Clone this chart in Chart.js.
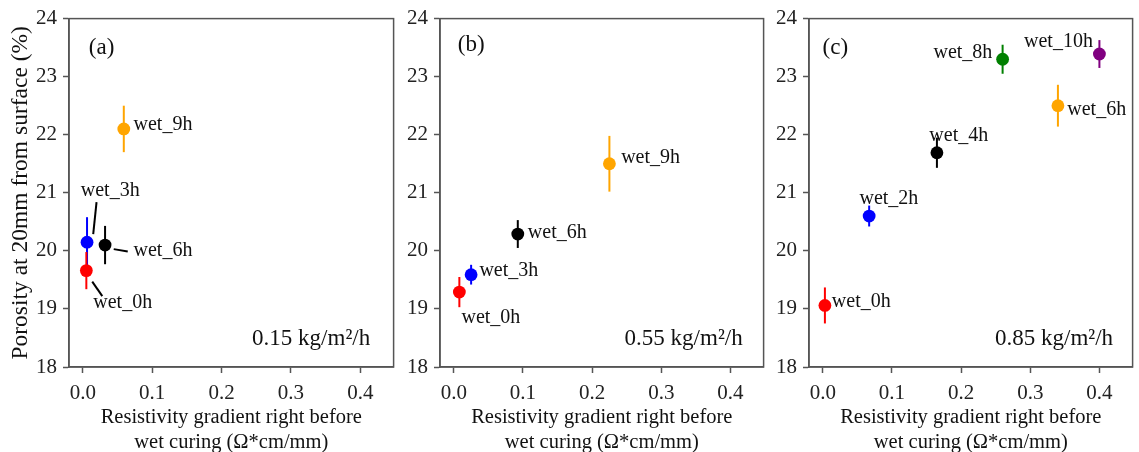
<!DOCTYPE html>
<html>
<head>
<meta charset="utf-8">
<script src="https://cdn.jsdelivr.net/npm/chart.js@4.4.0/dist/chart.umd.min.js"></script>
<style>
  body { margin: 0; background: #fff; width: 1139px; height: 452px; overflow: hidden; position: relative; }
  canvas { position: absolute; top: 0; }
</style>
</head>
<body>
<canvas id="ca" width="400" height="452" style="left:0"></canvas>
<canvas id="cb" width="370" height="452" style="left:400px"></canvas>
<canvas id="cc" width="369" height="452" style="left:770px"></canvas>
<script>
// shared axes
const xTicks = [0, 0.1, 0.2, 0.3, 0.4];
const yTicks = [18, 19, 20, 21, 22, 23, 24];
const xTitle = ['Resistivity gradient right before', 'wet curing (\u03A9*cm/mm)'];
const yTitle = 'Porosity at 20mm from surface (%)';

// (a) 0.15 kg/m2/h
const namesA = ['wet_0h', 'wet_3h', 'wet_6h', 'wet_9h'];
const gradA = [0.005, 0.006, 0.032, 0.059];
const poroA = [19.66, 20.15, 20.10, 22.10];
const errA = [0.32, 0.43, 0.33, 0.40];
const colorsA = ['red', 'blue', 'black', 'orange'];

// (b) 0.55 kg/m2/h
const namesB = ['wet_0h', 'wet_3h', 'wet_6h', 'wet_9h'];
const gradB = [0.008, 0.025, 0.0925, 0.225];
const poroB = [19.29, 19.59, 20.29, 21.50];
const errB = [0.26, 0.17, 0.24, 0.48];
const colorsB = ['red', 'blue', 'black', 'orange'];

// (c) 0.85 kg/m2/h
const namesC = ['wet_0h', 'wet_2h', 'wet_4h', 'wet_6h', 'wet_8h', 'wet_10h'];
const gradC = [0.003, 0.067, 0.165, 0.34, 0.26, 0.40];
const poroC = [19.06, 20.60, 21.69, 22.50, 23.30, 23.39];
const errC = [0.31, 0.18, 0.26, 0.36, 0.25, 0.24];
const colorsC = ['red', 'blue', 'black', 'orange', 'green', 'purple'];

// where the labels sit (data coords, left/middle anchored)
const textPosA = [[0.015, 19.10], [-0.003, 21.03], [0.073, 20.01], [0.073, 22.17]];
const textPosB = [[0.011, 18.84], [0.037, 19.65], [0.107, 20.32], [0.242, 21.61]];
const textPosC = [[0.013, 19.13], [0.053, 20.90], [0.154, 21.98], [0.3535, 22.43], [0.160, 23.42], [0.291, 23.60]];
// leader lines of panel (a): [x1, y1, x2, y2]
const leadersA = [[0.028, 19.22, 0.0135, 19.47], [0.0197, 20.84, 0.0149, 20.29], [0.0647, 19.99, 0.0445, 20.03]];

const SERIF = '"Liberation Serif", "Times New Roman", serif';
const INK = '#111';
const AXIS = '#555';

function marksPlugin(p) {
  return {
    id: 'marks',
    beforeDatasetsDraw(chart) {
      const { ctx, scales: { x, y } } = chart;
      ctx.save();
      ctx.lineWidth = 2;
      // last first, so the lower series' bar ends up on top (as in the figure)
      for (let i = p.x.length - 1; i >= 0; i--) {
        const px = x.getPixelForValue(p.x[i]);
        ctx.strokeStyle = p.colors[i];
        ctx.beginPath();
        ctx.moveTo(px, y.getPixelForValue(p.y[i] - p.err[i]));
        ctx.lineTo(px, y.getPixelForValue(p.y[i] + p.err[i]));
        ctx.stroke();
      }
      ctx.restore();
    },
    afterDraw(chart) {
      const { ctx, chartArea: a, scales: { x, y } } = chart;
      ctx.save();
      ctx.strokeStyle = AXIS;
      ctx.lineWidth = 1.5;
      ctx.strokeRect(a.left, a.top, a.right - a.left, a.bottom - a.top);

      ctx.fillStyle = INK;
      ctx.textAlign = 'left';
      ctx.textBaseline = 'middle';
      ctx.font = '20px ' + SERIF;
      p.names.forEach((n, i) => {
        ctx.fillText(n, x.getPixelForValue(p.textPos[i][0]), y.getPixelForValue(p.textPos[i][1]));
      });

      ctx.strokeStyle = '#000';
      ctx.lineWidth = 2;
      (p.leaders || []).forEach(l => {
        ctx.beginPath();
        ctx.moveTo(x.getPixelForValue(l[0]), y.getPixelForValue(l[1]));
        ctx.lineTo(x.getPixelForValue(l[2]), y.getPixelForValue(l[3]));
        ctx.stroke();
      });

      ctx.font = '23px ' + SERIF;
      ctx.fillText(p.tag, x.getPixelForValue(p.tagPos[0]), y.getPixelForValue(p.tagPos[1]));
      ctx.fillText(p.note, x.getPixelForValue(p.notePos[0]), y.getPixelForValue(18.49));
      ctx.restore();
    }
  };
}

function makeChart(id, p) {
  return new Chart(document.getElementById(id), {
    type: 'scatter',
    data: {
      datasets: [{
        data: p.x.map((v, i) => ({ x: v, y: p.y[i] })),
        pointBackgroundColor: p.colors,
        pointBorderWidth: 0,
        pointRadius: 6.4,
        pointHoverRadius: 6.4
      }]
    },
    options: {
      responsive: false,
      animation: false,
      events: [],
      layout: { padding: { left: 0, top: 13, right: p.padRight, bottom: 0 } },
      plugins: { legend: { display: false }, tooltip: { enabled: false } },
      scales: {
        x: {
          type: 'linear',
          min: -0.02,
          max: 0.448,
          afterBuildTicks: s => { s.ticks = xTicks.map(v => ({ value: v })); },
          afterFit: s => { s.height = 85; },
          ticks: { font: { family: SERIF, size: 21 }, color: '#222', padding: 8, callback: v => v.toFixed(1) },
          grid: { drawOnChartArea: false, tickLength: 6, tickColor: AXIS, tickWidth: 1.5 },
          border: { color: AXIS, width: 1.5 },
          title: { display: true, text: xTitle, color: INK, font: { family: SERIF, size: 20.5, lineHeight: 1.2 }, padding: { top: 0, bottom: -3 } }
        },
        y: {
          type: 'linear',
          min: 18,
          max: 24,
          afterBuildTicks: s => { s.ticks = yTicks.map(v => ({ value: v })); },
          afterFit: s => { s.width = p.yWidth; },
          ticks: { font: { family: SERIF, size: 21 }, color: '#222', padding: 6 },
          grid: { drawOnChartArea: false, tickLength: 6, tickColor: AXIS, tickWidth: 1.5 },
          border: { color: AXIS, width: 1.5 },
          title: { display: p.showTitle, text: yTitle, color: INK, font: { family: SERIF, size: 23.5, lineHeight: 1.2 }, padding: { top: 7, bottom: 0 } }
        }
      }
    },
    plugins: [marksPlugin(p)]
  });
}

makeChart('ca', {
  names: namesA, x: gradA, y: poroA, err: errA, colors: colorsA,
  textPos: textPosA, leaders: leadersA,
  tag: '(a)', tagPos: [0.0086, 23.50], note: '0.15 kg/m\u00B2/h', notePos: [0.244],
  yWidth: 69, padRight: 6, showTitle: true
});
makeChart('cb', {
  names: namesB, x: gradB, y: poroB, err: errB, colors: colorsB,
  textPos: textPosB,
  tag: '(b)', tagPos: [0.0057, 23.55], note: '0.55 kg/m\u00B2/h', notePos: [0.247],
  yWidth: 40, padRight: 6, showTitle: false
});
makeChart('cc', {
  names: namesC, x: gradC, y: poroC, err: errC, colors: colorsC,
  textPos: textPosC,
  tag: '(c)', tagPos: [-0.0004, 23.50], note: '0.85 kg/m\u00B2/h', notePos: [0.249],
  yWidth: 39, padRight: 5, showTitle: false
});
</script>
</body>
</html>
